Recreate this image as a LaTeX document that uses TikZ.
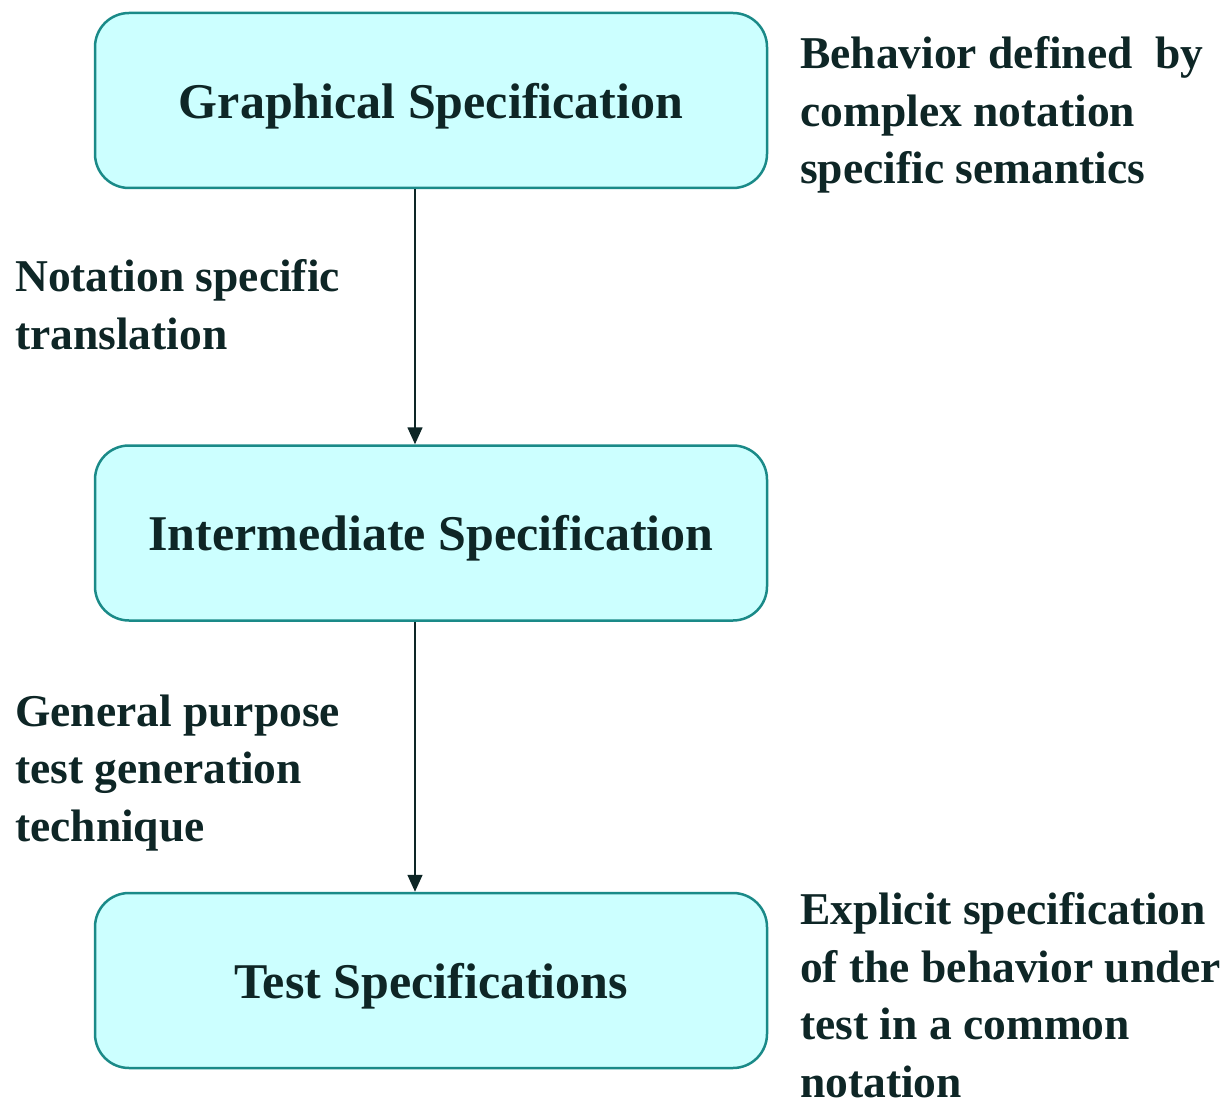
\documentclass[tikz,border=0pt]{standalone}
\usepackage{fontspec}
\setmainfont{Liberation Serif}
\usetikzlibrary{arrows.meta}
\definecolor{boxfill}{HTML}{CCFFFF}
\definecolor{boxline}{HTML}{1A8A88}
\definecolor{txt}{HTML}{0E2626}
\tikzset{
  specbox/.style={draw=boxline, line width=2.5pt, fill=boxfill, rounded corners=34pt,
    minimum width=672pt, minimum height=175pt, inner sep=0pt, text depth=0pt,
    font=\fontsize{50}{60}\selectfont\bfseries, text=txt},
  note/.style={anchor=base west, align=left, inner sep=0pt,
    font=\fontsize{45.5}{57.5}\selectfont\bfseries, text=txt},
  flow/.style={draw=txt, line width=1.6pt, -{Triangle[width=15pt,length=17pt]}}
}
\begin{document}
\begin{tikzpicture}[x=1pt,y=-1pt]
\useasboundingbox (0,0) rectangle (1232,1107);
\node[specbox] (g) at (431,100.5) {Graphical Specification};
\node[specbox] (i) at (431,533) {Intermediate Specification};
\node[specbox] (t) at (431,980.5) {Test Specifications};
\draw[flow] ([xshift=-16pt]g.south) -- ([xshift=-16pt]i.north);
\draw[flow] ([xshift=-16pt]i.south) -- ([xshift=-16pt]t.north);
\node[note] (n1) at (800,184) {Behavior defined~ by\\complex notation\\specific semantics};
\node[note] (n2) at (15,349) {Notation specific\\translation};
\node[note] (n3) at (15,841) {General purpose\\test generation\\technique};
\node[note] (n4) at (800,1097) {Explicit specification\\of the behavior under\\test in a common\\notation};
\end{tikzpicture}
\end{document}
